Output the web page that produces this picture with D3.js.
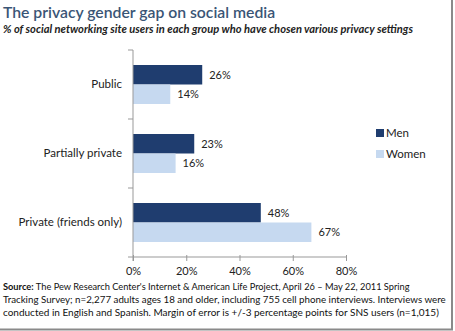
<!doctype html>
<html>
<head>
<meta charset="UTF-8">
<script src="https://d3js.org/d3.v7.min.js"></script>
<style>
  body { margin: 0; background: #fff; }
  text { font-family: Lato, "Open Sans", sans-serif; }
</style>
</head>
<body>
<script>
// data
var categories = ["Public", "Partially private", "Private (friends only)"];
var series = ["Men", "Women"];
var men = [26, 23, 48];
var women = [14, 16, 67];
var ticks = [0, 20, 40, 60, 80];
var colors = ["#1f3d6f", "#c6d9f0"];

var title = "The privacy gender gap on social media";
var subtitle = "% of social networking site users in each group who have chosen various privacy settings";
var source = [
  "The Pew Research Center's Internet & American Life Project, April 26 \u2013 May 22, 2011 Spring",
  "Tracking Survey; n=2,277 adults ages 18 and older, including 755 cell phone interviews. Interviews were",
  "conducted in English and Spanish. Margin of error is +/-3 percentage points for SNS users (n=1,015)"
];

var W = 455, H = 331;
var svg = d3.select("body").append("svg").attr("width", W).attr("height", H);
svg.append("rect").attr("width", W).attr("height", H).attr("fill", "#fff");

// shrink/grow a text's font so it spans the wanted width
function fit(t, width, size) {
  t.attr("font-size", size);
  var w = t.node().getComputedTextLength();
  t.attr("font-size", (size * width / w).toFixed(2));
  return t;
}

// frame shadow (right and bottom)
svg.append("line").attr("x1", 452).attr("x2", 452).attr("y1", 0).attr("y2", 330)
  .attr("stroke", "#8a8a8a").attr("stroke-width", 2);
svg.append("line").attr("x1", 0).attr("x2", 453).attr("y1", 329.5).attr("y2", 329.5)
  .attr("stroke", "#8a8a8a").attr("stroke-width", 2);

// titles
fit(svg.append("text").attr("x", 3).attr("y", 18).text(title)
  .attr("fill", "#3a5576").attr("font-weight", 600), 272, 17.5);
fit(svg.append("text").attr("x", 3).attr("y", 33).text(subtitle)
  .attr("font-style", "italic").attr("font-weight", 700).attr("fill", "#222"), 410, 10.5);

// scales
var x = d3.scaleLinear().domain([0, 80]).range([133, 346]);
var y0 = d3.scaleBand().domain(categories).range([50, 257]);
var y1 = d3.scaleBand().domain(series).range([15, 54]);

var rows = categories.map(function (c, i) {
  return { cat: c, vals: [men[i], women[i]] };
});

var g = svg.selectAll("g.cat").data(rows).enter().append("g")
  .attr("class", "cat")
  .attr("transform", function (d) { return "translate(0," + y0(d.cat) + ")"; });

g.selectAll("rect").data(function (d) {
  return d.vals.map(function (v, j) { return { s: series[j], v: v, j: j }; });
}).enter().append("rect")
  .attr("x", x(0))
  .attr("y", function (d) { return y1(d.s); })
  .attr("width", function (d) { return x(d.v) - x(0); })
  .attr("height", y1.bandwidth())
  .attr("fill", function (d) { return colors[d.j]; });

g.selectAll("text.val").data(function (d) {
  return d.vals.map(function (v, j) { return { s: series[j], v: v }; });
}).enter().append("text")
  .attr("class", "val")
  .attr("x", function (d) { return x(d.v) + 7; })
  .attr("y", function (d) { return y1(d.s) + y1.bandwidth() / 2; })
  .attr("dy", "0.35em")
  .attr("font-size", 11).attr("fill", "#222")
  .text(function (d) { return d.v + "%"; });

// y axis
var yAxis = d3.axisLeft(y0).tickSize(0).tickPadding(11).tickFormat(function (d) { return d; });
var yg = svg.append("g").attr("transform", "translate(" + x(0) + ",0)").call(yAxis);
yg.select(".domain").remove();
yg.selectAll("text").attr("font-size", 11.5).attr("fill", "#222").attr("font-family", "Lato, sans-serif");
// category separator ticks
svg.selectAll("line.sep").data(y0.domain().map(function (d) { return y0(d); }).concat([y0.range()[1]]))
  .enter().append("line").attr("class", "sep")
  .attr("x1", x(0) - 5).attr("x2", x(0))
  .attr("y1", function (d) { return d; }).attr("y2", function (d) { return d; })
  .attr("stroke", "#999");
svg.append("line").attr("x1", x(0)).attr("x2", x(0)).attr("y1", y0.range()[0]).attr("y2", y0.range()[1] + 4)
  .attr("stroke", "#999");

// x axis
var xAxis = d3.axisBottom(x).tickValues(ticks).tickSize(4).tickPadding(6)
  .tickFormat(function (d) { return d + "%"; });
var xg = svg.append("g").attr("transform", "translate(0," + y0.range()[1] + ")").call(xAxis);
xg.select(".domain").attr("stroke", "#999").attr("d", "M" + x(0) + ",0H" + x(80));
xg.selectAll(".tick line").attr("stroke", "#999").attr("y1", -2);
xg.selectAll("text").attr("font-size", 11).attr("fill", "#222").attr("font-family", "Lato, sans-serif");

// legend
var lg = svg.selectAll("g.leg").data(series).enter().append("g").attr("class", "leg")
  .attr("transform", function (d, i) { return "translate(376," + (133 + i * 21) + ")"; });
lg.append("rect").attr("x", 0).attr("y", -4).attr("width", 8).attr("height", 8)
  .attr("fill", function (d, i) { return colors[i]; });
lg.append("text").attr("x", 10).attr("y", 0).attr("dy", "0.35em")
  .attr("font-size", 11.5).attr("fill", "#222").text(function (d) { return d; });

// source
var lens = [407, 443, 436];
source.forEach(function (line, i) {
  var t = svg.append("text").attr("x", 3).attr("y", 290 + i * 12.8).attr("fill", "#111");
  if (i === 0) {
    t.append("tspan").attr("font-weight", 700).text("Source: ");
  }
  t.append("tspan").text(line);
  fit(t, lens[i], 10.5);
});
</script>
</body>
</html>
